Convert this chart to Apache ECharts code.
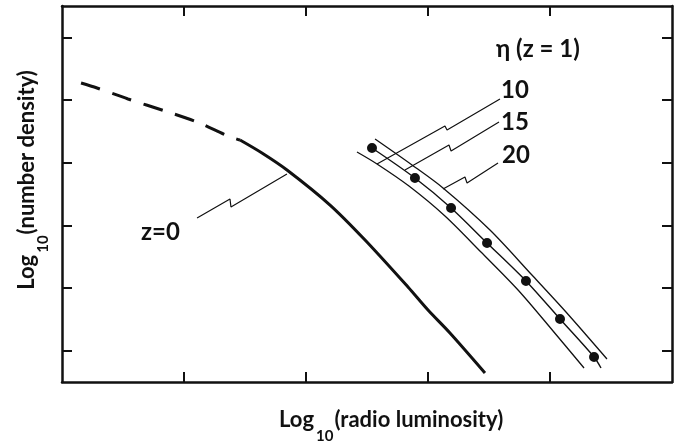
<!DOCTYPE html>
<html><head><meta charset="utf-8">
<script src="https://cdn.jsdelivr.net/npm/echarts@6/dist/echarts.min.js"></script>
<style>html,body{margin:0;padding:0;background:#fff}#c{width:679px;height:448px}</style>
</head><body><div id="c"></div>
<script>
// axis ticks (no numeric labels in the original)
const xTicks = [1, 2, 3, 4];
const yTicks = [0.5, 1.5, 2.5, 3.5, 4.5, 5.5];

// z = 0 luminosity function: dashed (extrapolated) part and solid part
const z0Dashed = [[0.156,4.771],[0.287,4.691],[0.541,4.516],[0.844,4.324],[1.107,4.149],[1.361,3.925],[1.459,3.861]];
const z0Solid  = [[1.459,3.861],[1.639,3.654],[1.844,3.383],[2.197,2.824],[2.484,2.266],[2.836,1.516],[3.000,1.149],[3.180,0.782],[3.467,0.144]];

// z = 1 curves for eta = 10, 15, 20
const eta10 = [[2.418,3.670],[2.582,3.479],[2.844,3.127],[3.139,2.649],[3.434,2.074],[3.738,1.468],[4.025,0.814],[4.279,0.223]];
const eta15Dots = [[2.541,3.734],[2.893,3.255],[3.189,2.777],[3.484,2.218],[3.803,1.612],[4.082,1.005],[4.361,0.399]];
const eta15Tail = [[4.418,0.223]];
const eta20 = [[2.566,3.877],[2.869,3.463],[3.123,3.096],[3.508,2.425],[3.852,1.707],[4.131,1.117],[4.467,0.367]];

// annotation leader lines (data coordinates)
const leaderZ0  = [[1.844,3.319],[1.385,2.792],[1.377,2.920],[1.107,2.617]];
const leader10  = [[3.590,4.516],[3.156,4.021],[3.139,4.085],[2.582,3.479]];
const leader15  = [[3.582,4.149],[3.189,3.686],[3.172,3.782],[2.811,3.383]];
const leader20  = [[3.574,3.495],[3.320,3.175],[3.303,3.271],[3.123,3.080]];

const FONT = 'Lato';
const black = '#111';

function axisX(pos){
  return {type:'value', position:pos, min:0, max:5, interval:1,
    axisLine:{show:true, onZero:false, lineStyle:{color:black, width:2.5}},
    axisTick:{show:true, inside:true, length:10, customValues:xTicks, lineStyle:{color:black, width:2}},
    axisLabel:{show:false}, splitLine:{show:false}};
}
function axisY(pos){
  return {type:'value', position:pos, min:0, max:6, interval:1,
    axisLine:{show:true, onZero:false, lineStyle:{color:black, width:2.5}},
    axisTick:{show:true, inside:true, length:10, customValues:yTicks, lineStyle:{color:black, width:2}},
    axisLabel:{show:false}, splitLine:{show:false}};
}
function line(data, width, extra){
  return Object.assign({type:'line', data:data, symbol:'none', smooth:0.3, silent:true,
    lineStyle:{color:black, width:width}, animation:false}, extra||{});
}
function leader(data){
  return {type:'line', data:data, symbol:'none', smooth:false, silent:true, animation:false,
    lineStyle:{color:black, width:1.2}};
}
function txt(left, top, s, size){
  return {type:'text', left:left, top:top, style:{text:s, fontFamily:FONT, fontSize:size, fontWeight:'bold', fill:black}};
}
// main and subscript tokens get equal box heights so the offset is explicit
const titleRich = {
  m:{fontFamily:FONT, fontSize:22, fontWeight:'bold', lineHeight:24, padding:[0,0,12,0], fill:black},
  s:{fontFamily:FONT, fontSize:15, fontWeight:'bold', lineHeight:15, padding:[21,1,0,2], fill:black}
};

const chart = echarts.init(document.getElementById('c'), null, {renderer:'canvas'});
chart.setOption({
  backgroundColor:'#fff',
  animation:false,
  grid:{left:62, right:7, top:6, bottom:66},
  xAxis:[axisX('bottom'), axisX('top')],
  yAxis:[axisY('left'), axisY('right')],
  series:[
    line(z0Dashed, 3, {lineStyle:{color:black, width:3, type:[20,13]}}),
    line(z0Solid, 3),
    line(eta15Dots.concat(eta15Tail), 1.4),
    {type:'scatter', data:eta15Dots, symbol:'circle', symbolSize:13, silent:true, animation:false,
      itemStyle:{color:black, opacity:1, borderColor:'#fff', borderWidth:3}},
    line(eta10, 1.3),
    line(eta20, 1.3),
    leader(leaderZ0), leader(leader10), leader(leader15), leader(leader20)
  ],
  graphic:[
    txt(141, 220, 'z=0', 24),
    txt(496, 37, 'η (z = 1)', 24),
    txt(501, 78, '10', 24),
    txt(501, 110, '15', 24),
    txt(502, 143, '20', 24),
    {type:'text', left:279, top:408, style:{
      text:'{m|Log}{s|10}{m|(radio luminosity)}', rich:titleRich}},
    {type:'text', x:33, y:180, rotation:Math.PI/2, style:{
      text:'{m|Log}{s|10}{m|(number density)}', align:'center', verticalAlign:'middle', rich:titleRich}}
  ]
});
</script></body></html>
